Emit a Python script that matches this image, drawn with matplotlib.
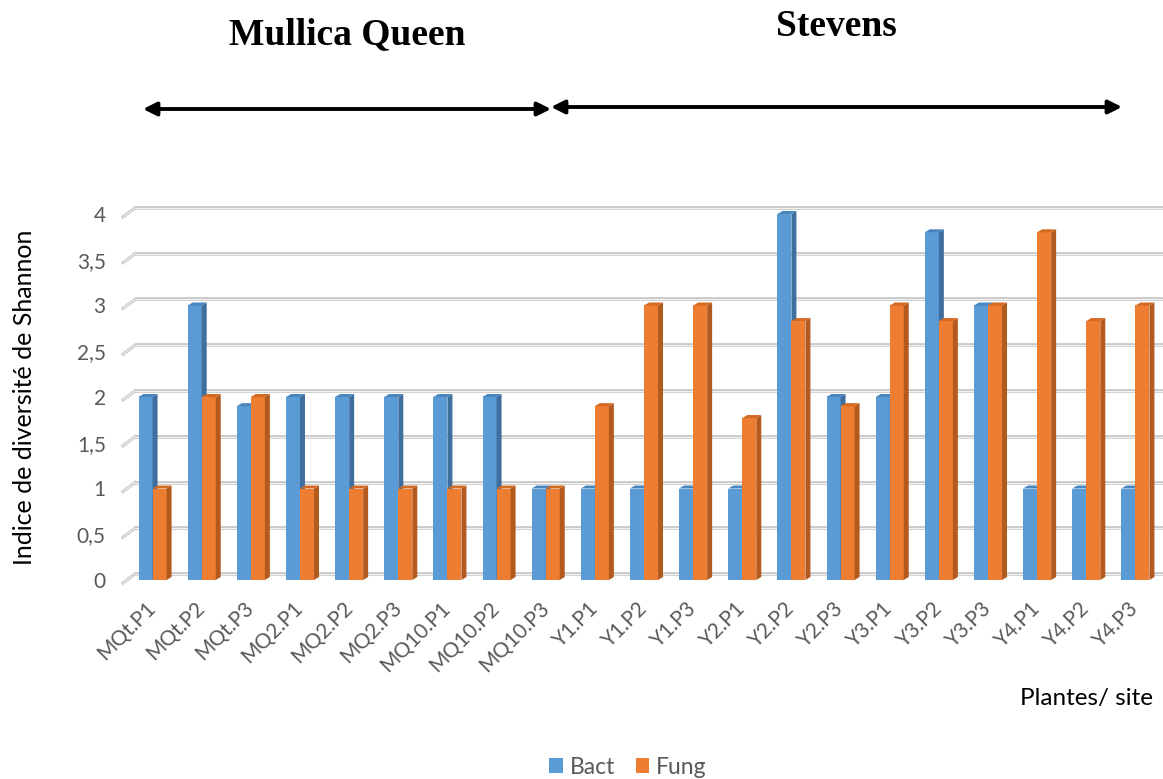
import matplotlib
matplotlib.use("Agg")
import matplotlib.pyplot as plt
from matplotlib.patches import Polygon, Patch, FancyArrowPatch
from matplotlib.transforms import offset_copy, ScaledTranslation
import numpy as np

# Shannon diversity index per plant / site
categories = ["MQt.P1", "MQt.P2", "MQt.P3", "MQ2.P1", "MQ2.P2", "MQ2.P3",
              "MQ10.P1", "MQ10.P2", "MQ10.P3",
              "Y1.P1", "Y1.P2", "Y1.P3", "Y2.P1", "Y2.P2", "Y2.P3",
              "Y3.P1", "Y3.P2", "Y3.P3", "Y4.P1", "Y4.P2", "Y4.P3"]
bact = [2, 3, 1.9, 2, 2, 2, 2, 2, 1,
        1, 1, 1, 1, 4, 2, 2, 3.8, 3, 1, 1, 1]
fung = [1, 2, 2, 1, 1, 1, 1, 1, 1,
        1.9, 3, 3, 1.77, 2.83, 1.9, 3, 2.83, 3, 3.8, 2.83, 3]
yticks = [0, 0.5, 1, 1.5, 2, 2.5, 3, 3.5, 4]
ytick_labels = ["0", "0,5", "1", "1,5", "2", "2,5", "3", "3,5", "4"]
series_names = ["Bact", "Fung"]
site_names = ["Mullica Queen", "Stevens"]

BLUE, BLUE_SIDE, BLUE_TOP = "#5B9BD5", "#3F6F9E", "#4A85BE"
ORANGE, ORANGE_SIDE, ORANGE_TOP = "#ED7D31", "#B35A1E", "#D46A22"
GRAY_TXT = "#595959"

W, H, DPI = 1163, 779, 100
fig = plt.figure(figsize=(W / DPI, H / DPI), dpi=DPI)
plt.rcParams["font.family"] = ["Lato", "DejaVu Sans"]

# axes: x from -0.5..20.5 between px 128 and 1160, y=0 at px 580
ymax = 4.3
px_per_unit = 91.5
ax_left, ax_right = 128, 1160
ax_bottom_px = 580
ax = fig.add_axes([ax_left / W, (H - ax_bottom_px) / H,
                   (ax_right - ax_left) / W, ymax * px_per_unit / H])
ax.set_xlim(-0.5, len(categories) - 0.5)
ax.set_ylim(0, ymax)
for s in ax.spines.values():
    s.set_visible(False)

# back-wall gridlines with a slanted floor edge on the left
back = offset_copy(ax.transData, fig=fig, x=0, y=6, units="dots")
slant = offset_copy(ax.transData, fig=fig, x=-5, y=-3, units="dots")
x0 = -0.5 + 7 / 49.15
for v in yticks:
    for col, lw, z in (("#C4C4C4", 2.6, 0.5), ("#F2F2F2", 0.9, 0.6)):
        ax.plot([x0, len(categories) + 0.5], [v, v], transform=back,
                color=col, lw=lw, clip_on=False, zorder=z,
                solid_capstyle="butt")
        ax.plot([-0.5, -0.5 + 12 / 49.15], [v, v + 9 / px_per_unit],
                transform=slant, color=col, lw=lw * 0.85, clip_on=False,
                zorder=z)

x = np.arange(len(categories))
bw = 0.285
dx = 5 / 49.15
dy = 3 / px_per_unit


def bar3d(xl, h, front, side, top, z):
    ax.bar(xl, h, width=bw, align="edge", color=front, edgecolor="none",
           zorder=z)
    ax.add_patch(Polygon([(xl + bw, 0), (xl + bw + dx, dy),
                          (xl + bw + dx, h + dy), (xl + bw, h)],
                         closed=True, facecolor=side, edgecolor="none",
                         zorder=z))
    ax.add_patch(Polygon([(xl, h), (xl + dx, h + dy), (xl + bw + dx, h + dy),
                          (xl + bw, h)], closed=True, facecolor=top,
                         edgecolor="none", zorder=z))


for i in range(len(categories)):
    bar3d(x[i] - bw, bact[i], BLUE, BLUE_SIDE, BLUE_TOP, 2 + i * 0.01)
    bar3d(x[i], fung[i], ORANGE, ORANGE_SIDE, ORANGE_TOP, 2.005 + i * 0.01)

ax.set_yticks(yticks)
ax.set_yticklabels(ytick_labels)
ax.tick_params(axis="y", length=0, pad=16, labelsize=15,
               labelcolor=GRAY_TXT)
ax.set_xticks(x)
ax.set_xticklabels(categories, rotation=45, ha="right",
                   rotation_mode="anchor")
ax.tick_params(axis="x", length=0, pad=13, labelsize=15,
               labelcolor=GRAY_TXT)
shift = ScaledTranslation(-7 / DPI, 0, fig.dpi_scale_trans)
for lab in ax.get_xticklabels():
    lab.set_transform(lab.get_transform() + shift)

fig.text(25 / W, 1 - 397 / H, "Indice de diversité de Shannon",
         rotation=90, ha="center", va="center", fontsize=18,
         color="black")
fig.text(1086 / W, 1 - 698 / H, "Plantes/ site", ha="center",
         va="center", fontsize=17.5, color="black")

# site headers with spanning arrows
fig.text(347 / W, 1 - 44 / H, site_names[0], ha="center", va="baseline",
         fontsize=27, fontweight="bold", family="Liberation Serif")
fig.text(836 / W, 1 - 36 / H, site_names[1], ha="center", va="baseline",
         fontsize=27, fontweight="bold", family="Liberation Serif")
arrow_kw = dict(arrowstyle="<|-|>", color="black", lw=2.8,
                mutation_scale=20, shrinkA=0, shrinkB=0)
fig.add_artist(FancyArrowPatch(
    (143 / W, 1 - 109 / H), (551 / W, 1 - 109 / H),
    transform=fig.transFigure, **arrow_kw))
fig.add_artist(FancyArrowPatch(
    (551 / W, 1 - 107 / H), (1122 / W, 1 - 107 / H),
    transform=fig.transFigure, **arrow_kw))

handles = [Patch(facecolor=BLUE, edgecolor="none"),
           Patch(facecolor=ORANGE, edgecolor="none")]
leg = fig.legend(handles, series_names, loc="center", ncol=2,
                 bbox_to_anchor=(628 / W, 1 - 767 / H), frameon=False,
                 fontsize=16.5, handlelength=0.6, handleheight=0.6,
                 handletextpad=0.3, columnspacing=0.9)
for t in leg.get_texts():
    t.set_color(GRAY_TXT)

fig.savefig("out.png", dpi=DPI, facecolor="white")
